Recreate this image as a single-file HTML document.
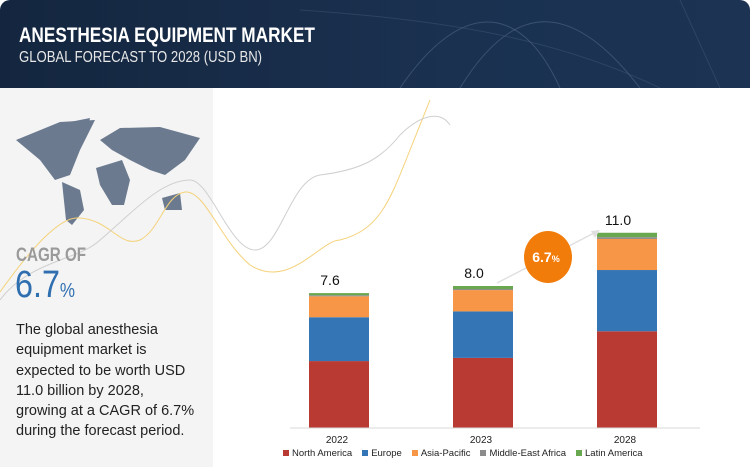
<!DOCTYPE html>
<html><head><meta charset="utf-8"><style>
body{margin:0;width:750px;height:467px;overflow:hidden;background:#fff;font-family:"Liberation Sans",sans-serif;position:relative}
#hdr{position:absolute;left:0;top:0;width:750px;height:88px;background:linear-gradient(90deg,#14263f,#1a3150 60%,#1c3354);border-radius:10px 10px 0 0}
#left{position:absolute;left:0;top:88px;width:213px;height:379px;background:#f4f4f4}
.t{position:absolute;white-space:nowrap}
</style></head><body>
<div id="hdr">
<svg width="750" height="88" style="position:absolute;left:0;top:0">
<path d="M400 88 C460 0 520 0 560 88" stroke="#5a7090" fill="none" opacity=".5"/>
<path d="M460 88 C520 -10 580 10 640 88" stroke="#5a7090" fill="none" opacity=".5"/>
<path d="M300 10 C450 20 560 40 660 88" stroke="#4a6080" fill="none" opacity=".4"/>
<path d="M680 0 L720 88" stroke="#4a6080" fill="none" opacity=".4"/>
</svg>
<div class="t" style="left:19px;top:24px;color:#fff;font-size:21px;font-weight:bold;transform:scaleX(.82);transform-origin:left">ANESTHESIA EQUIPMENT MARKET</div>
<div class="t" style="left:19px;top:49px;color:#e8e8e8;font-size:16px;transform:scaleX(.82);transform-origin:left">GLOBAL FORECAST TO 2028 (USD BN)</div>
</div>
<div id="left"></div>
<svg width="750" height="467" style="position:absolute;left:0;top:0">
<g fill="#6b7a8f">
<path d="M16 140 L60 122 L95 120 L80 150 L70 175 L55 180 L40 160 Z"/>
<path d="M70 122 L90 118 L86 138 Z"/>
<path d="M62 182 L80 190 L84 210 L72 225 L66 220 Z"/>
<path d="M100 140 L120 128 L160 127 L200 138 L185 160 L165 175 L150 170 L130 160 L112 150 Z"/>
<path d="M96 168 L122 160 L130 180 L124 205 L112 205 L100 185 Z"/>
<path d="M162 198 L180 193 L182 210 L165 210 Z"/>
</g>
<path d="M0 292 C30 250 60 215 80 218 C110 220 120 248 140 240 C160 230 165 195 185 192 C205 190 220 240 250 265 C290 290 320 240 340 240 C380 230 390 200 410 150 L430 100" stroke="#f5d27a" fill="none" stroke-width="1"/>
<path d="M0 300 C30 260 80 260 100 240 C130 215 160 180 190 180 C210 180 230 250 255 250 C280 250 290 180 320 175 C360 170 380 160 400 135 C420 115 440 110 450 125" stroke="#cfcfcf" fill="none" stroke-width="1"/>
<g id="bars"></g>
<line x1="290" y1="428" x2="700" y2="428" stroke="#d8d8d8"/>
<line x1="497" y1="283" x2="596" y2="232" stroke="#e0e0e0" stroke-width="1.5"/>
<polygon points="600,230 591,231 595,238" fill="#e0e0e0"/>
<ellipse cx="548" cy="257" rx="24" ry="26" fill="#f27c0a"/>
<text x="546" y="262" text-anchor="middle" fill="#fff" font-size="14" font-weight="bold" font-family="Liberation Sans">6.7<tspan font-size="9">%</tspan></text>
</svg>
<div class="t" style="left:16px;top:245px;color:#9a9a9a;font-size:19px;font-weight:bold;transform:scaleX(.8);transform-origin:left">CAGR OF</div>
<div class="t" style="left:15px;top:264px;color:#2f6fb0;font-size:38px;transform:scaleX(.85);transform-origin:left">6.7<span style="font-size:20px">%</span></div>
<div class="t" style="left:16px;top:320px;color:#222;font-size:14.5px;line-height:20.3px">The global anesthesia<br>equipment market is<br>expected to be worth USD<br>11.0 billion by 2028,<br>growing at a CAGR of 6.7%<br>during the forecast period.</div>
<div id="legend" class="t" style="left:283px;top:448px;font-size:9.5px;color:#222"></div>
<script>
const years=["2022","2023","2028"];
const totals=["7.6","8.0","11.0"];
const northAmerica=[3.77,3.95,5.45];
const europe=[2.47,2.62,3.45];
const asiaPacific=[1.18,1.2,1.75];
const middleEastAfrica=[0.06,0.06,0.1];
const latinAmerica=[0.12,0.17,0.25];
const seriesNames=["North America","Europe","Asia-Pacific","Middle-East Africa","Latin America"];
const colors=["#b83a32","#3475b5","#f79646","#8c8c8c","#6aa84f"];
const series=[northAmerica,europe,asiaPacific,middleEastAfrica,latinAmerica];
const base=428,scale=17.75,bw=60;
function xC(i){return 339+i*144;}
function yS(v){return v*scale;}
const ns="http://www.w3.org/2000/svg",g=document.getElementById('bars');
years.forEach((y,i)=>{
 let acc=0;
 series.forEach((s,k)=>{
  const r=document.createElementNS(ns,'rect');
  
  
  r.setAttribute('x',xC(i)-bw/2);r.setAttribute('width',bw);
  r.setAttribute('y',base-yS(acc+s[i]));r.setAttribute('height',yS(s[i]));
  r.setAttribute('fill',colors[k]);g.appendChild(r);acc+=s[i];
 });
 const t=document.createElementNS(ns,'text');
 
 
 t.setAttribute('x',xC(i)-9);t.setAttribute('y',base-yS(acc)-8);
 t.setAttribute('text-anchor','middle');t.setAttribute('font-size','14');t.setAttribute('fill','#111');
 t.setAttribute('font-family','Liberation Sans');t.textContent=totals[i];g.appendChild(t);
 const l=document.createElementNS(ns,'text');
 
 
 l.setAttribute('x',xC(i)-2);l.setAttribute('y',443);l.setAttribute('text-anchor','middle');
 l.setAttribute('font-size','10');l.setAttribute('fill','#222');l.setAttribute('font-family','Liberation Sans');
 l.textContent=y;g.appendChild(l);
});
const lg=document.getElementById('legend');
seriesNames.forEach((n,k)=>{
 const s=document.createElement('span');
 
 
 s.style.marginRight='10px';
 s.innerHTML='<span style="display:inline-block;width:6px;height:6px;background:'+colors[k]+';margin-right:3px"></span>'+n;
 lg.appendChild(s);
});
</script>
</body></html>
